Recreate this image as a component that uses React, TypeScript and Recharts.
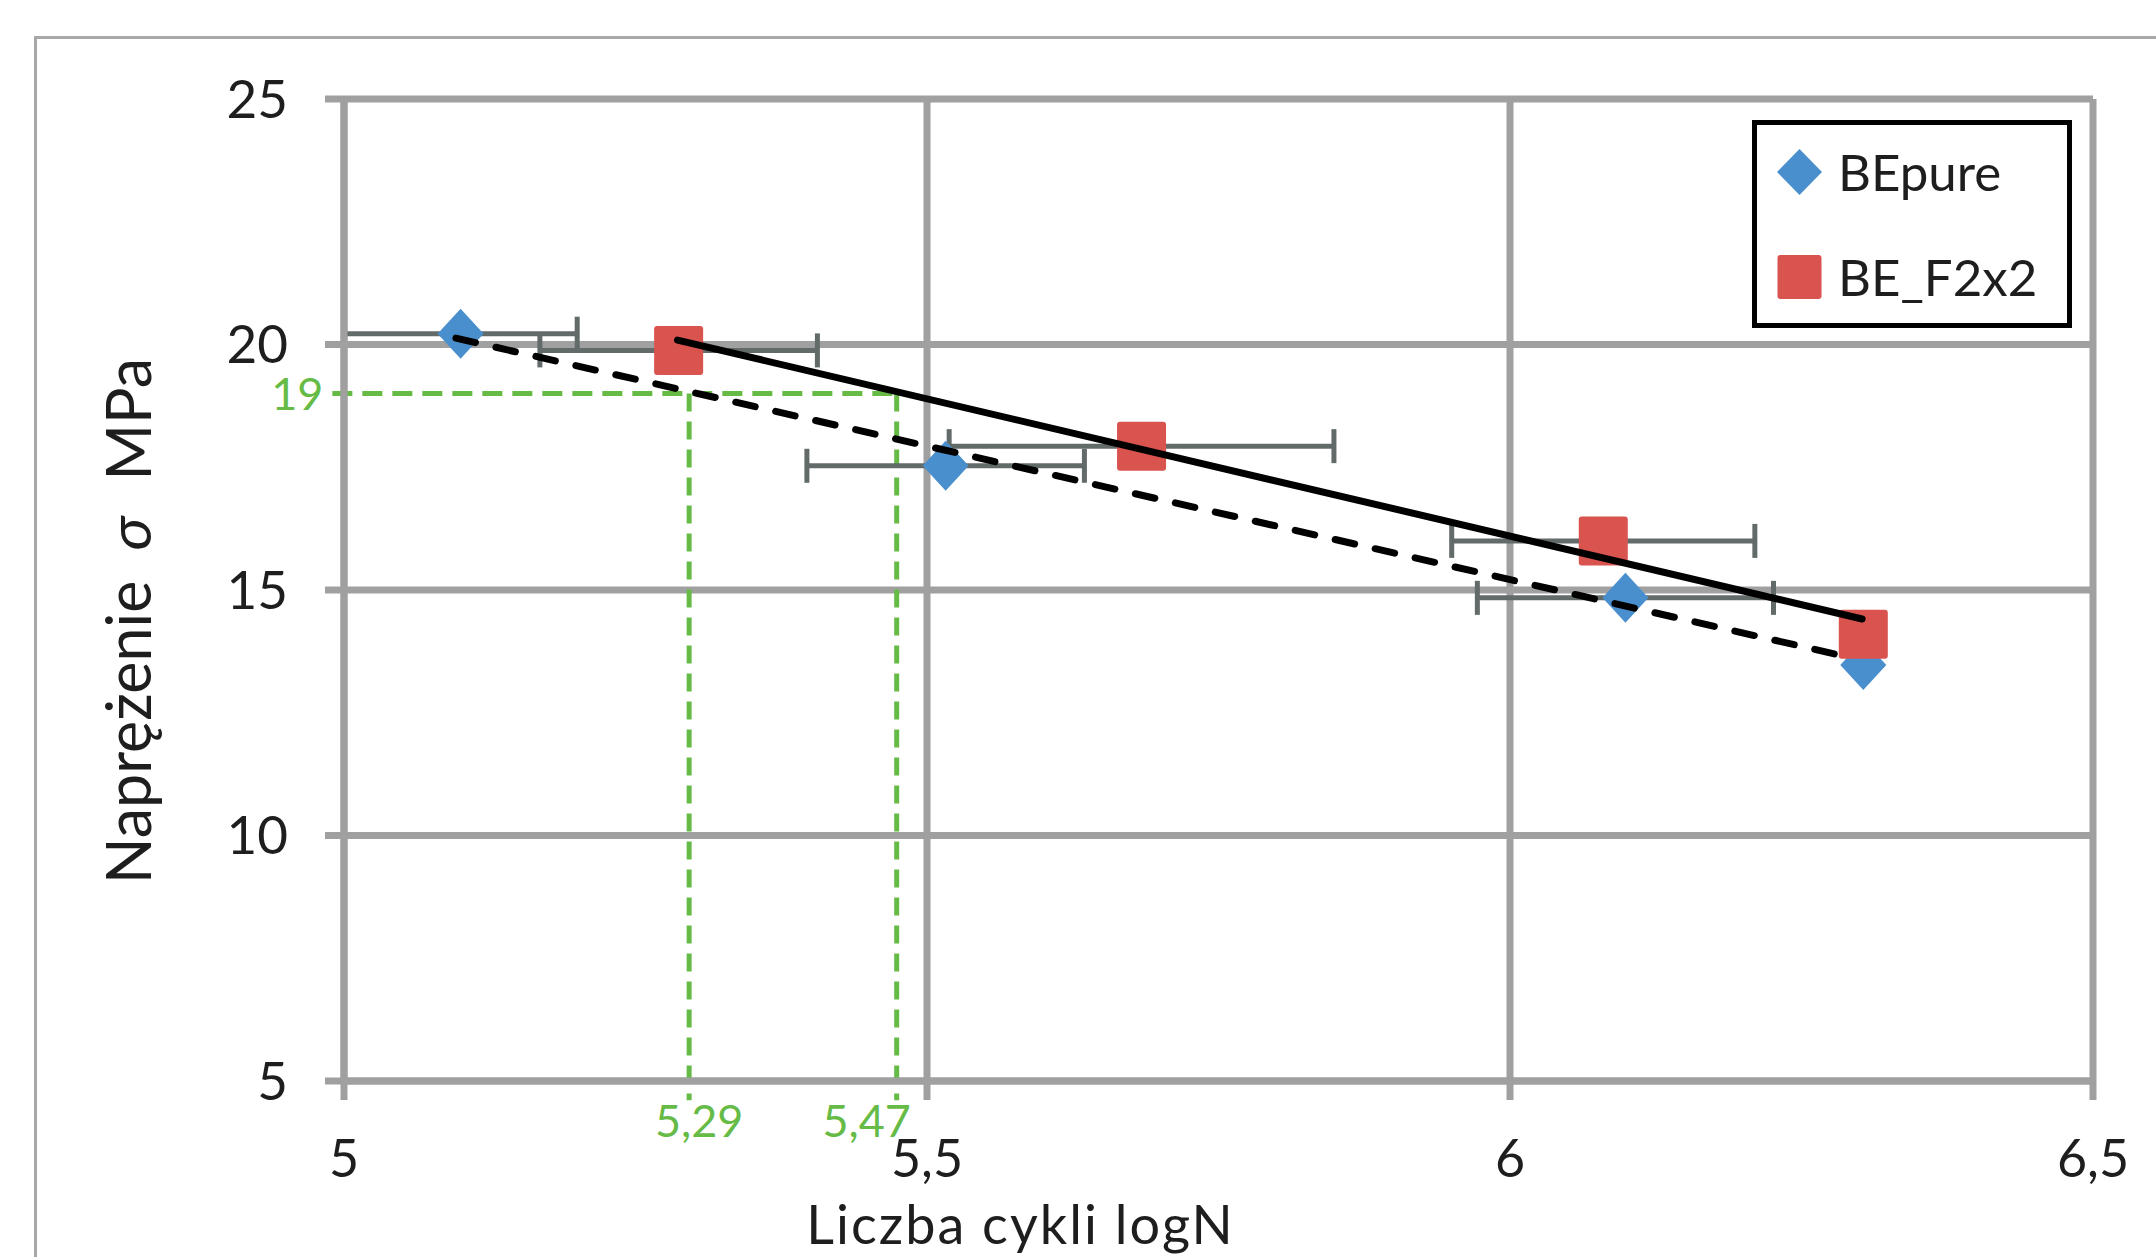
import React from "react";
import { CartesianGrid, ErrorBar, Legend, ReferenceLine, Scatter, ScatterChart, XAxis, YAxis } from "recharts";

const FONT = "Lato, 'Open Sans', sans-serif";
const BLUE = "#4a8fcd";
const RED = "#d9534f";
const GREEN = "#66bb47";
const GRID = "#a0a0a0";
const BAR = "#636a6a";
const INK = "#1e1e1e";

const seriesNames = ["BEpure", "BE_F2x2"];

// BEpure: logN, stress, horizontal spread
const pureLogN = [5.1, 5.516, 6.099, 6.303];
const pureStress = [20.22, 17.53, 14.84, 13.47];
const pureSpread = [0.1, 0.119, 0.127, 0];

// BE_F2x2
const f2LogN = [5.287, 5.684, 6.08, 6.303];
const f2Stress = [19.88, 17.93, 16.0, 14.1];
const f2Spread = [0.119, 0.165, 0.13, 0];

// trend lines (ends)
const pureTrendLogN = [5.096, 6.289];
const pureTrendStress = [20.13, 13.64];
const f2TrendLogN = [5.286, 6.302];
const f2TrendStress = [20.09, 14.41];

// read-off at sigma = 19
const readStress = 19;
const readLogN = [5.296, 5.474];
const readLabels = ["5,29", "5,47"];
const readStartLogN = 4.99;
const readEndStress = 4.61;

const xTicks = [5, 5.5, 6, 6.5];
const yTicks = [5, 10, 15, 20, 25];

const toPoints = (xs: number[], ys: number[], errs?: number[]) =>
  xs.map((x, i) => ({ x, y: ys[i], err: errs ? errs[i] : 0 }));

const pureData = toPoints(pureLogN, pureStress, pureSpread);
const f2Data = toPoints(f2LogN, f2Stress, f2Spread);
const pureTrend = toPoints(pureTrendLogN, pureTrendStress);
const f2Trend = toPoints(f2TrendLogN, f2TrendStress);

const comma = (v: number) => String(v).replace(".", ",");

const Diamond = ({ cx, cy }: any) => (
  <path d={`M${cx},${cy - 25} L${cx + 23},${cy} L${cx},${cy + 25} L${cx - 23},${cy} Z`} fill={BLUE} />
);
const Square = ({ cx, cy }: any) => <rect x={cx - 24.5} y={cy - 24.5} width={49} height={49} rx={3} fill={RED} />;
const Nothing = () => <g />;

function ReadLabel({ viewBox, text, side, shift = 0 }: any) {
  if (!viewBox) return null;
  const common = { fill: GREEN, fontSize: 45, fontFamily: FONT };
  if (side === "left") {
    return (
      <text x={viewBox.x - 9} y={viewBox.y + 16} textAnchor="end" {...common}>
        {text}
      </text>
    );
  }
  return (
    <text x={viewBox.x + shift} y={viewBox.y + viewBox.height + 37} textAnchor="middle" {...common}>
      {text}
    </text>
  );
}

function XTitle({ viewBox }: any) {
  const vb = viewBox ?? { x: 344, y: 1081, width: 1749, height: 176 };
  return (
    <text
      x={vb.x + vb.width / 2 - 198}
      y={vb.y + 163}
      textAnchor="middle"
      fill={INK}
      fontSize={54}
      letterSpacing={2}
      fontFamily={FONT}
    >
      Liczba cykli logN
    </text>
  );
}

function YTitle({ viewBox }: any) {
  const vb = viewBox ?? { x: 0, y: 99, width: 344, height: 982 };
  return (
    <text
      transform={`translate(${vb.x + 151}, ${vb.y + vb.height / 2 + 31}) rotate(-90)`}
      textAnchor="middle"
      fill={INK}
      fontSize={61}
      fontFamily={FONT}
    >
      <tspan>Naprężenie</tspan>
      <tspan dx={30} fontStyle="italic">σ</tspan>
      <tspan dx={36}>MPa</tspan>
    </text>
  );
}

function LegendBox({ payload }: any) {
  const items = (payload ?? [])
    .filter((p: any) => seriesNames.includes(p.value))
    .sort((a: any, b: any) => seriesNames.indexOf(a.value) - seriesNames.indexOf(b.value));
  return (
    <svg width={320} height={208} style={{ display: "block" }}>
      <rect x={2.5} y={2.5} width={315} height={203} fill="#fff" stroke="#000" strokeWidth={5} />
      {items.map((p: any, i: number) => {
        const cy = i === 0 ? 52 : 157;
        return (
          <g key={p.value}>
            {p.value === "BEpure" ? (
              <path d={`M47.5,${cy - 23} L70,${cy} L47.5,${cy + 23} L25,${cy} Z`} fill={BLUE} />
            ) : (
              <rect x={25.5} y={cy - 22} width={44} height={44} rx={3} fill={RED} />
            )}
            <text x={86} y={cy + 19} fill={INK} fontSize={51} fontFamily={FONT}>
              {p.value}
            </text>
          </g>
        );
      })}
    </svg>
  );
}

export default function App() {
  return (
    <div style={{ position: "absolute", left: 0, top: 0, width: 2156, height: 1257, overflow: "hidden", background: "#fff" }}>
      <div
        style={{
          position: "absolute",
          left: 34,
          top: 36,
          width: 2400,
          height: 1500,
          border: "3px solid #a8a8a8",
        }}
      />
      <div style={{ position: "absolute", left: 0, top: 0 }}>
        <ScatterChart width={2156} height={1257} margin={{ top: 99, right: 63, left: 0, bottom: 0 }}>
          <CartesianGrid stroke={GRID} strokeWidth={7} />
          <XAxis
            type="number"
            dataKey="x"
            domain={[5, 6.5]}
            ticks={xTicks}
            tickFormatter={comma}
            height={176}
            stroke={GRID}
            strokeWidth={7}
            tickSize={19}
            tickMargin={40}
            tick={{ fill: INK, fontSize: 52, fontFamily: FONT }}
            axisLine={{ stroke: GRID, strokeWidth: 7 }}
            tickLine={{ stroke: GRID, strokeWidth: 7 }}
            label={<XTitle />}
            allowDataOverflow
          />
          <YAxis
            type="number"
            dataKey="y"
            domain={[5, 25]}
            ticks={yTicks}
            width={344}
            stroke={GRID}
            tickSize={19}
            tickMargin={37}
            tick={{ fill: INK, fontSize: 53, fontFamily: FONT }}
            axisLine={{ stroke: GRID, strokeWidth: 7 }}
            tickLine={{ stroke: GRID, strokeWidth: 7 }}
            label={<YTitle />}
            allowDataOverflow
          />
          <ReferenceLine
            segment={[
              { x: readStartLogN, y: readStress },
              { x: readLogN[1], y: readStress },
            ]}
            stroke={GREEN}
            strokeWidth={5}
            strokeDasharray="20 10"
            ifOverflow="visible"
            label={<ReadLabel text={String(readStress)} side="left" />}
          />
          {readLogN.map((x, i) => (
            <ReferenceLine
              key={x}
              segment={[
                { x, y: readStress },
                { x, y: readEndStress },
              ]}
              stroke={GREEN}
              strokeWidth={5}
              strokeDasharray="18 10"
              ifOverflow="visible"
              label={<ReadLabel text={readLabels[i]} side="bottom" shift={i === 0 ? 10 : -30} />}
            />
          ))}
          <Scatter name={seriesNames[0]} data={pureData} fill={BLUE} shape={<Diamond />} isAnimationActive={false} />
          <Scatter name={seriesNames[1]} data={f2Data} fill={RED} shape={<Square />} isAnimationActive={false} />
          <Scatter data={pureData.filter((d) => d.err > 0)} shape={<Nothing />} legendType="none" isAnimationActive={false}>
            <ErrorBar dataKey="err" direction="x" width={17} stroke={BAR} strokeWidth={5} isAnimationActive={false} />
          </Scatter>
          <Scatter data={f2Data.filter((d) => d.err > 0)} shape={<Nothing />} legendType="none" isAnimationActive={false}>
            <ErrorBar dataKey="err" direction="x" width={17} stroke={BAR} strokeWidth={5} isAnimationActive={false} />
          </Scatter>
          <Scatter
            data={pureTrend}
            shape={<Nothing />}
            line={{ stroke: "#000", strokeWidth: 7, strokeDasharray: "20 21", strokeLinecap: "round" }}
            legendType="none"
            isAnimationActive={false}
          />
          <Scatter
            data={f2Trend}
            shape={<Nothing />}
            line={{ stroke: "#000", strokeWidth: 7, strokeLinecap: "round" }}
            legendType="none"
            isAnimationActive={false}
          />
          <Legend
            layout="horizontal"
            align="center"
            verticalAlign="middle"
            content={<LegendBox />}
            wrapperStyle={{ left: 1752, top: 120, width: 320, height: 208 }}
          />
        </ScatterChart>
      </div>
    </div>
  );
}
